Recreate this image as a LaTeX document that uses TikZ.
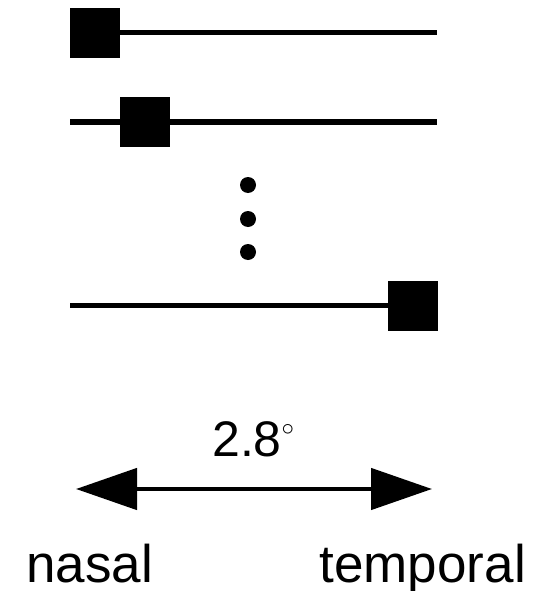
\documentclass[tikz,border=0pt]{standalone}
\usepackage{fontspec}
\setmainfont{Liberation Sans}
\usetikzlibrary{arrows.meta}
\begin{document}
\begin{tikzpicture}[x=1pt,y=-1pt,
  sq/.style={draw=none,fill=black,minimum size=50pt,inner sep=0pt},
  trace/.style={line width=5pt},
  dotnode/.style={circle,fill=black,minimum size=16pt,inner sep=0pt},
  lbl/.style={font=\fontsize{53}{58}\selectfont,inner sep=0pt,anchor=base}]
\useasboundingbox (0,0) rectangle (543,591);
% traces
\coordinate (a1) at (70,33); \coordinate (b1) at (437,33);
\coordinate (a2) at (70,122); \coordinate (b2) at (437,122);
\coordinate (a3) at (70,305.5); \coordinate (b3) at (437,305.5);
\draw[trace] (a1) -- (b1);
\draw[trace] (a2) -- (b2);
\draw[trace] (a3) -- (b3);
\node[sq] (s1) at (95.3,33) {};
\node[sq] (s2) at (145.3,122) {};
\node[sq] (s3) at (412.5,305.5) {};
% dots
\node[dotnode] (d1) at (248,185) {};
\node[dotnode] (d2) at (248,219) {};
\node[dotnode] (d3) at (248,252) {};
% arrow
\coordinate (pl) at (76,489); \coordinate (pr) at (432,489);
\draw[line width=4.7pt,{Triangle[length=61pt,width=41pt]}-{Triangle[length=61pt,width=41pt]}] (pl) -- (pr);
\node[lbl,font=\fontsize{50}{55}\selectfont,anchor=base west] (ang) at (212,456) {2.8\raisebox{11pt}{$^{\circ}$}};
\node[lbl,anchor=base west] (nas) at (26,582) {nasal};
\node[lbl,anchor=base east] (tem) at (526,582) {temporal};
\end{tikzpicture}
\end{document}
